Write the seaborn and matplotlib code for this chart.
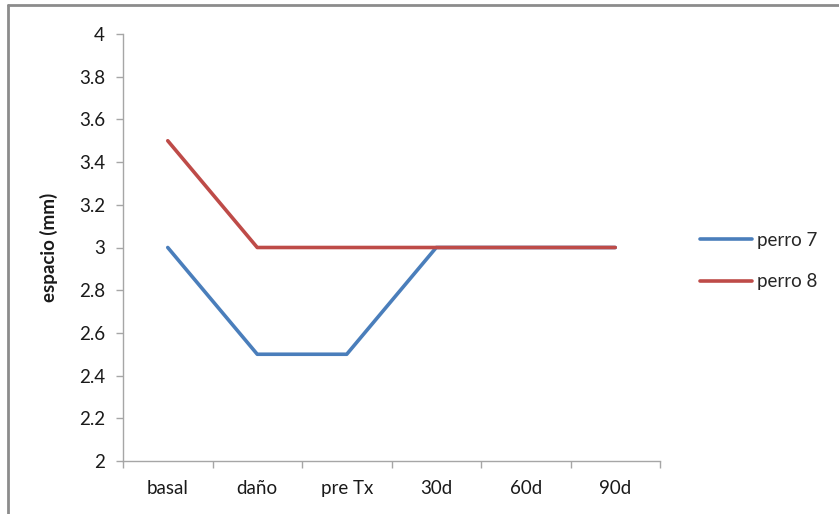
import matplotlib
matplotlib.use("Agg")
import matplotlib.pyplot as plt
import seaborn as sns
import pandas as pd
from matplotlib.lines import Line2D

categories = ["basal", "daño", "pre Tx", "30d", "60d", "90d"]
perro7 = [3.0, 2.5, 2.5, 3.0, 3.0, 3.0]
perro8 = [3.5, 3.0, 3.0, 3.0, 3.0, 3.0]
series_names = ["perro 7", "perro 8"]
y_ticks = [2, 2.2, 2.4, 2.6, 2.8, 3, 3.2, 3.4, 3.6, 3.8, 4]
y_tick_labels = ["2", "2.2", "2.4", "2.6", "2.8", "3", "3.2", "3.4", "3.6", "3.8", "4"]

sns.set_style("white")
plt.rcParams["font.family"] = ["Lato", "DejaVu Sans"]

df = pd.DataFrame({
    "momento": categories * 2,
    "valor": perro7 + perro8,
    "serie": [series_names[0]] * len(categories) + [series_names[1]] * len(categories),
})
df["pos"] = list(range(len(categories))) * 2

fig = plt.figure(figsize=(8.39, 5.14), dpi=100)
ax = fig.add_axes([123 / 839, 1 - 461 / 514, (660 - 123) / 839, (461 - 34) / 514])

palette = {"perro 7": "#4A7EBB", "perro 8": "#BE4B48"}
sns.lineplot(data=df, x="pos", y="valor", hue="serie", palette=palette,
             linewidth=2.6, ax=ax, legend=False, sort=False)

ax.set_xlim(-0.5, len(categories) - 0.5)
ax.set_ylim(2, 4)
ax.set_yticks(y_ticks)
ax.set_yticklabels(y_tick_labels)
ax.set_xticks(range(len(categories)))
ax.set_xticklabels(categories)
ax.set_xticks([i - 0.5 for i in range(len(categories) + 1)], minor=True)

for side in ("top", "right"):
    ax.spines[side].set_visible(False)
for side in ("left", "bottom"):
    ax.spines[side].set_color("#A6A6A6")
    ax.spines[side].set_linewidth(1.0)

fs = 13.5
ax.tick_params(axis="y", which="major", direction="out", length=5, width=1,
               color="#A6A6A6", labelsize=fs, labelcolor="#1A1A1A", pad=8, left=True)
ax.tick_params(axis="x", which="major", length=0, labelsize=fs,
               labelcolor="#1A1A1A", pad=14, bottom=True)
ax.tick_params(axis="x", which="minor", direction="out", length=5, width=1,
               color="#A6A6A6", bottom=True)

ax.set_xlabel("")
ax.set_ylabel("espacio (mm)", fontsize=fs, fontweight="bold", color="#1A1A1A", labelpad=15)

handles = [Line2D([0], [0], color=palette[n], linewidth=2.6) for n in series_names]
fig.legend(handles, series_names, loc="center left",
           bbox_to_anchor=(700 / 839, 1 - 261 / 514), frameon=False,
           borderpad=0, borderaxespad=0,
           fontsize=fs, handlelength=2.75, labelspacing=1.3, handletextpad=0.28)

# outer chart frame (top and left edges)
fig.add_artist(Line2D([8 / 839, 8 / 839], [0, 1 - 5 / 514], transform=fig.transFigure,
                      color="#8C8C8C", linewidth=2.0))
fig.add_artist(Line2D([8 / 839, 1], [1 - 5 / 514, 1 - 5 / 514], transform=fig.transFigure,
                      color="#8C8C8C", linewidth=2.0))

fig.savefig("out.png", dpi=100)
